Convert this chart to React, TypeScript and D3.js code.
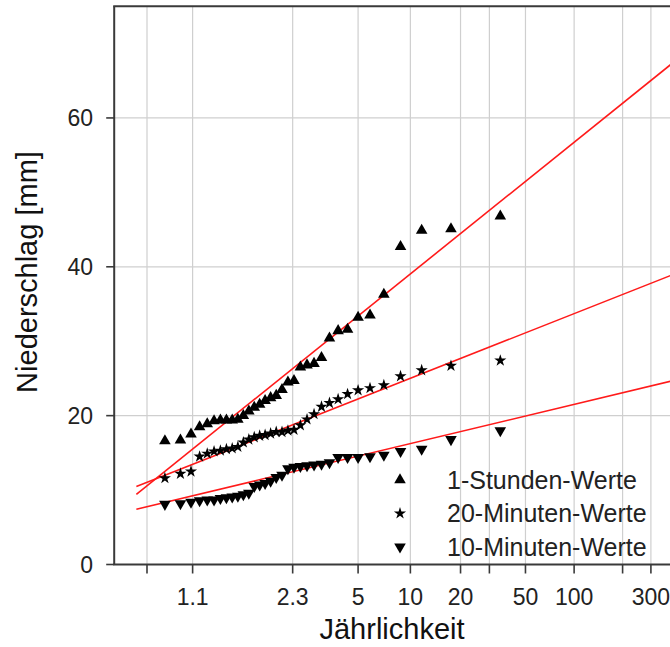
import React from "react";
import * as d3 from "d3";

// Return periods (Weibull plotting positions, rank 1 = largest)
const returnPeriods = [35, 17.5, 11.667, 8.75, 7, 5.833, 5, 4.375, 3.889, 3.5, 3.182, 2.917, 2.692, 2.5, 2.333, 2.188, 2.059, 1.944, 1.842, 1.75, 1.667, 1.591, 1.522, 1.458, 1.4, 1.346, 1.296, 1.25, 1.207, 1.167, 1.129, 1.094, 1.061, 1.029];

const hour1Values = [46.8, 45.1, 44.9, 42.7, 36.3, 33.5, 33.2, 31.6, 31.4, 30.4, 27.8, 27.0, 26.8, 26.5, 24.7, 24.5, 23.5, 22.7, 22.4, 22.0, 21.5, 21.1, 20.6, 20.0, 19.5, 19.4, 19.4, 19.4, 19.3, 18.9, 18.5, 17.5, 16.7, 16.6];
const min20Values = [27.4, 26.7, 26.1, 25.3, 24.1, 23.7, 23.4, 22.9, 22.2, 21.7, 21.2, 20.2, 19.5, 18.7, 18.1, 18.0, 17.8, 17.8, 17.6, 17.4, 17.3, 17.1, 16.8, 16.4, 15.8, 15.6, 15.5, 15.3, 15.2, 14.9, 14.5, 12.5, 12.2, 11.6];
const min10Values = [18.0, 16.8, 15.5, 15.2, 14.7, 14.5, 14.4, 14.4, 14.4, 13.7, 13.5, 13.4, 13.3, 13.2, 13.1, 12.9, 12.0, 11.7, 11.2, 10.9, 10.7, 10.5, 9.6, 9.4, 9.2, 9.1, 9.0, 8.9, 8.7, 8.7, 8.6, 8.4, 8.2, 8.1];

const seriesNames = ["1-Stunden-Werte", "20-Minuten-Werte", "10-Minuten-Werte"];
const seriesSymbols = ["triangleUp", "star", "triangleDown"];

// Gumbel fit lines: location and scale (value = u + alpha * reduced variate)
const fitLocation = [22.1, 16.69, 11.2];
const fitScale = [7.529, 3.699, 2.242];
const fitStartVariate = -1.682;

const xTickValues = [1.01, 1.1, 2.3, 5, 10, 20, 30, 50, 100, 200, 300];
const xTickLabels = ["", "1.1", "2.3", "5", "10", "20", "", "50", "100", "", "300"];
const yTickValues = [0, 20, 40, 60];

const gumbel = (T: number) => -Math.log(-Math.log(1 - 1 / T));

const W = 670;
const H = 647;
const FONT = "'Liberation Sans', Arial, Helvetica, sans-serif";

export default function App() {
  const x = d3.scaleLinear().domain([-2, 6.2]).range([114.2, 685.6]);
  const y = d3.scaleLinear().domain([0, 75]).range([564.5, 6.3]);
  const [x0, x1] = x.range();
  const [yb, yt] = y.range();

  const seriesValues = [hour1Values, min20Values, min10Values];

  const symPath = (kind: string) => {
    if (kind === "star") return d3.symbol(d3.symbolStar, 46)() as string;
    return d3.symbol(d3.symbolTriangle, 58)() as string;
  };

  const marker = (kind: string, cx: number, cy: number, key: string) => (
    <path
      key={key}
      d={symPath(kind)}
      transform={`translate(${cx},${cy})${kind === "triangleDown" ? " rotate(180)" : ""}`}
      fill="#000"
    />
  );

  const lineGen = d3
    .line<number>()
    .x((v) => x(v))
    .y((v, i) => 0);

  return (
    <svg
      width={W}
      height={H}
      style={{ position: "absolute", left: 0, top: 0, display: "block", background: "#fff" }}
      fontFamily={FONT}
    >
      <defs>
        <clipPath id="plotClip">
          <rect x={x0} y={yt} width={x1 - x0} height={yb - yt} />
        </clipPath>
      </defs>
      <rect x={0} y={0} width={W} height={H} fill="#fff" />
      {/* vertical grid */}
      {xTickValues.map((t, i) => (
        <line key={"vg" + i} x1={x(gumbel(t))} x2={x(gumbel(t))} y1={yt} y2={yb} stroke="#cfcfcf" strokeWidth={1.2} />
      ))}
      {/* horizontal grid */}
      {yTickValues.filter((v) => v > 0).map((v, i) => (
        <line key={"hg" + i} x1={x0} x2={x1} y1={y(v)} y2={y(v)} stroke="#cfcfcf" strokeWidth={1.2} />
      ))}
      {/* fit lines */}
      <g clipPath="url(#plotClip)">
        {fitLocation.map((u, i) => {
          const a = fitScale[i];
          const pts: [number, number][] = [fitStartVariate, x.domain()[1]].map((g) => [x(g), y(u + a * g)]);
          return <path key={"fit" + i} d={d3.line()(pts) as string} stroke="#ff1a1a" strokeWidth={1.6} fill="none" />;
        })}
      </g>
      {/* data markers */}
      {seriesValues.map((vals, si) =>
        vals.map((v, i) => marker(seriesSymbols[si], x(gumbel(returnPeriods[i])), y(v), `m${si}-${i}`))
      )}
      {/* axes frame */}
      <line x1={x0} x2={x0} y1={yt} y2={yb} stroke="#3a3a3a" strokeWidth={2} />
      <line x1={x0 - 1} x2={x1} y1={yb} y2={yb} stroke="#3a3a3a" strokeWidth={2} />
      <line x1={x0 - 1} x2={x1} y1={yt} y2={yt} stroke="#3a3a3a" strokeWidth={2} />
      {/* x ticks */}
      {xTickValues.map((t, i) => (
        <g key={"xt" + i} transform={`translate(${x(gumbel(t))},0)`}>
          <line y1={yb} y2={yb + 9} stroke="#3a3a3a" strokeWidth={1.6} />
          {xTickLabels[i] && (
            <text y={605} textAnchor="middle" fontSize={23} fill="#222">
              {xTickLabels[i]}
            </text>
          )}
        </g>
      ))}
      {/* y ticks */}
      {yTickValues.map((v, i) => (
        <g key={"yt" + i} transform={`translate(0,${y(v)})`}>
          <line x1={x0 - 8} x2={x0} stroke="#3a3a3a" strokeWidth={1.6} />
          <text x={93} dy="0.35em" textAnchor="end" fontSize={23} fill="#222">
            {v}
          </text>
        </g>
      ))}
      {/* axis titles */}
      <text x={392} y={639} textAnchor="middle" fontSize={29} fill="#111">
        Jährlichkeit
      </text>
      <text
        transform={`translate(37,272) rotate(-90)`}
        textAnchor="middle"
        fontSize={29}
        fill="#111"
      >
        Niederschlag [mm]
      </text>
      {/* legend */}
      {seriesNames.map((name, i) => (
        <g key={"lg" + i} transform={`translate(0,${480 + i * 33.4})`}>
          {marker(seriesSymbols[i], 400, 0, "lgm" + i)}
          <text x={447} dy="0.36em" fontSize={25} fill="#222">
            {name}
          </text>
        </g>
      ))}
    </svg>
  );
}
